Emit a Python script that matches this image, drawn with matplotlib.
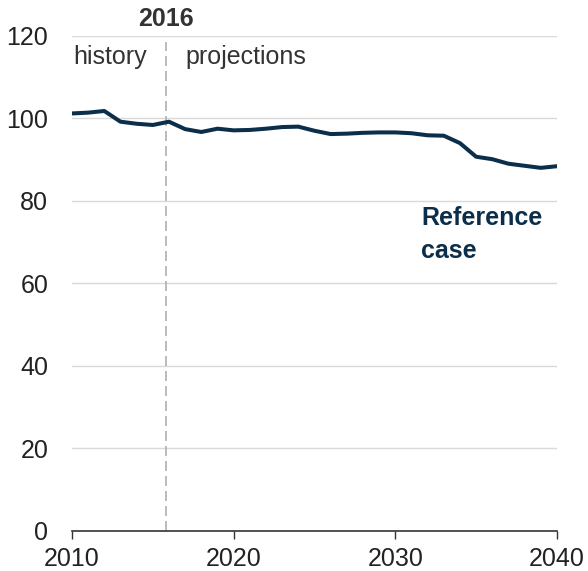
import matplotlib
matplotlib.use('Agg')
import matplotlib.pyplot as plt

COLORS = {
    'navy': '#0b2f4a',
    'text': '#333333',
    'grid': '#d9d9d9',
    'dash': '#b0b0b0',
}

years = list(range(2010, 2041))
reference_case = [
    101.2, 101.4, 101.8, 99.2, 98.7, 98.4, 99.2, 97.4, 96.7, 97.5,
    97.1, 97.2, 97.5, 97.9, 98.0, 97.0, 96.2, 96.3, 96.5, 96.6,
    96.6, 96.4, 95.9, 95.8, 94.0, 90.7, 90.1, 89.0, 88.5, 88.0,
    88.4,
]
y_ticks = [0, 20, 40, 60, 80, 100, 120]
x_ticks = [2010, 2020, 2030, 2040]
split_year = 2015.8

plt.rcParams['font.family'] = ['Liberation Sans', 'DejaVu Sans']

fig = plt.figure(figsize=(5.88, 5.71), dpi=100)
ax = fig.add_axes([0.1224, 0.0709, 0.8248, 0.8661])

for y in y_ticks[1:]:
    ax.axhline(y, color=COLORS['grid'], lw=1.0, zorder=1)

ax.plot([split_year, split_year], [0, 118.5], color=COLORS['dash'], lw=1.2,
        dashes=(6, 3), zorder=2)
ax.plot(years, reference_case, color=COLORS['navy'], lw=2.9, zorder=3,
        solid_joinstyle='round')

ax.set_xlim(2010, 2040)
ax.set_ylim(0, 120)
ax.set_xticks(x_ticks)
ax.set_yticks(y_ticks)
ax.tick_params(axis='x', length=6, width=1, color=COLORS['text'], direction='out',
               labelsize=18, labelcolor='#222222', pad=6)
ax.tick_params(axis='y', length=0, labelsize=18, labelcolor='#222222', pad=17)

for side in ['top', 'right', 'left']:
    ax.spines[side].set_visible(False)
ax.spines['bottom'].set_color(COLORS['text'])
ax.spines['bottom'].set_linewidth(1.2)
ax.spines['bottom'].set_zorder(4)

ax.text(split_year, 122.3, '2016', ha='center', va='baseline', fontsize=18,
        fontweight='bold', color=COLORS['text'])
ax.text(2010.05, 113.2, 'history', ha='left', va='baseline',
        fontsize=18, color=COLORS['text'])
ax.text(2017.0, 113.2, 'projections', ha='left', va='baseline',
        fontsize=18, color=COLORS['text'])
ax.text(2031.6, 74.2, 'Reference', ha='left', va='baseline', fontsize=18,
        fontweight='bold', color=COLORS['navy'])
ax.text(2031.6, 66.1, 'case', ha='left', va='baseline', fontsize=18,
        fontweight='bold', color=COLORS['navy'])

fig.savefig('out.png', dpi=100, facecolor='white')
